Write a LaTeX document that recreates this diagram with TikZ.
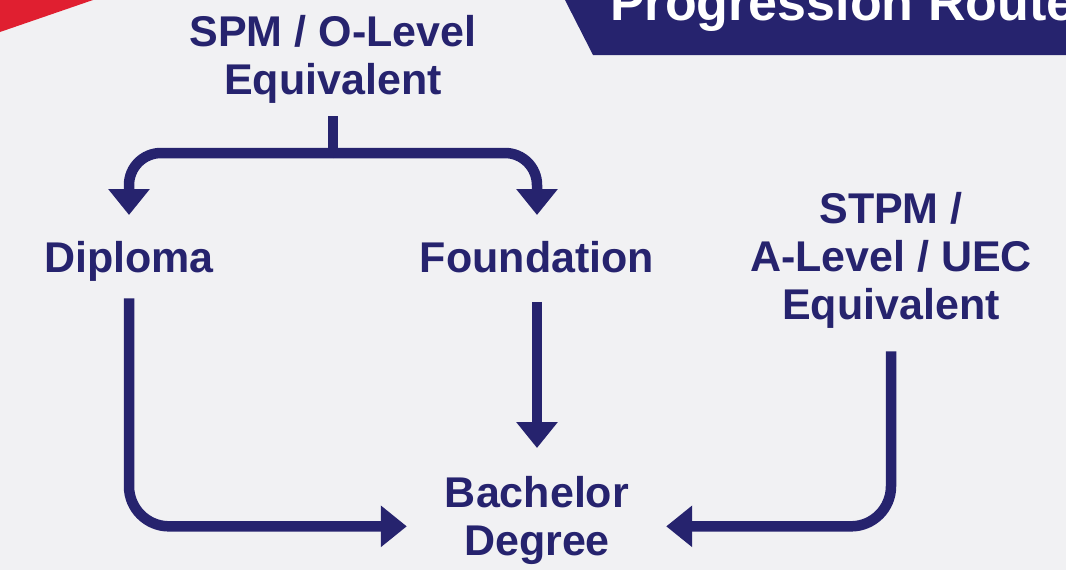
\documentclass[tikz,border=0pt]{standalone}
\usepackage{fontspec}
\setmainfont{Liberation Sans}
\usetikzlibrary{arrows.meta}
\definecolor{navy}{HTML}{26236E}
\definecolor{redband}{HTML}{E01F30}
\definecolor{bg}{HTML}{F1F1F3}
\tikzset{
  lbl/.style={font=\fontsize{43}{48}\selectfont\bfseries, text=navy, align=center, inner sep=0pt, anchor=north},
  lnk/.style={draw=navy, line width=10.5pt},
  arr/.style={lnk, -{Triangle[width=40pt,length=26pt]}}
}
\begin{document}
\begin{tikzpicture}[x=1pt,y=-1pt]
\useasboundingbox (0,0) rectangle (1066,570);
\clip (0,0) rectangle (1066,570);
\fill[bg] (0,0) rectangle (1066,570);
% decorative header shapes
\fill[redband] (0,0) -- (93,0) -- (0,32) -- cycle;
\fill[navy] (565,0) -- (593,55) -- (1066,55) -- (1066,0) -- cycle;
\node[anchor=base west, inner sep=0pt, text=white, font=\fontsize{52}{60}\selectfont\bfseries] (title) at (610,20) {Progression Route};
% text nodes
\node[lbl] (spm) at (333,15) {SPM / O-Level\\Equivalent};
\node[lbl] (dip) at (129,241) {Diploma};
\node[lbl] (fnd) at (537,241) {Foundation};
\node[lbl] (stpm) at (891,192) {STPM /\\A-Level / UEC\\Equivalent};
\node[lbl] (bach) at (537,476) {Bachelor\\Degree};
% connectors
\coordinate (br) at (333,153);
\draw[lnk] ([yshift=-13pt]spm.south) -- (br);
\draw[arr, rounded corners=32pt] (br) -| ([yshift=26pt]dip.north);
\draw[arr, rounded corners=32pt] (br) -| ([yshift=26pt]fnd.north);
\draw[arr, rounded corners=40pt] ([yshift=-17pt]dip.south) |- ([xshift=-38pt,yshift=-6pt]bach.west);
\draw[arr] ([yshift=-29pt]fnd.south) -- ([yshift=28pt]bach.north);
\draw[arr, rounded corners=40pt] ([yshift=-23pt]stpm.south) |- ([xshift=37pt,yshift=-6pt]bach.east);
\end{tikzpicture}
\end{document}
